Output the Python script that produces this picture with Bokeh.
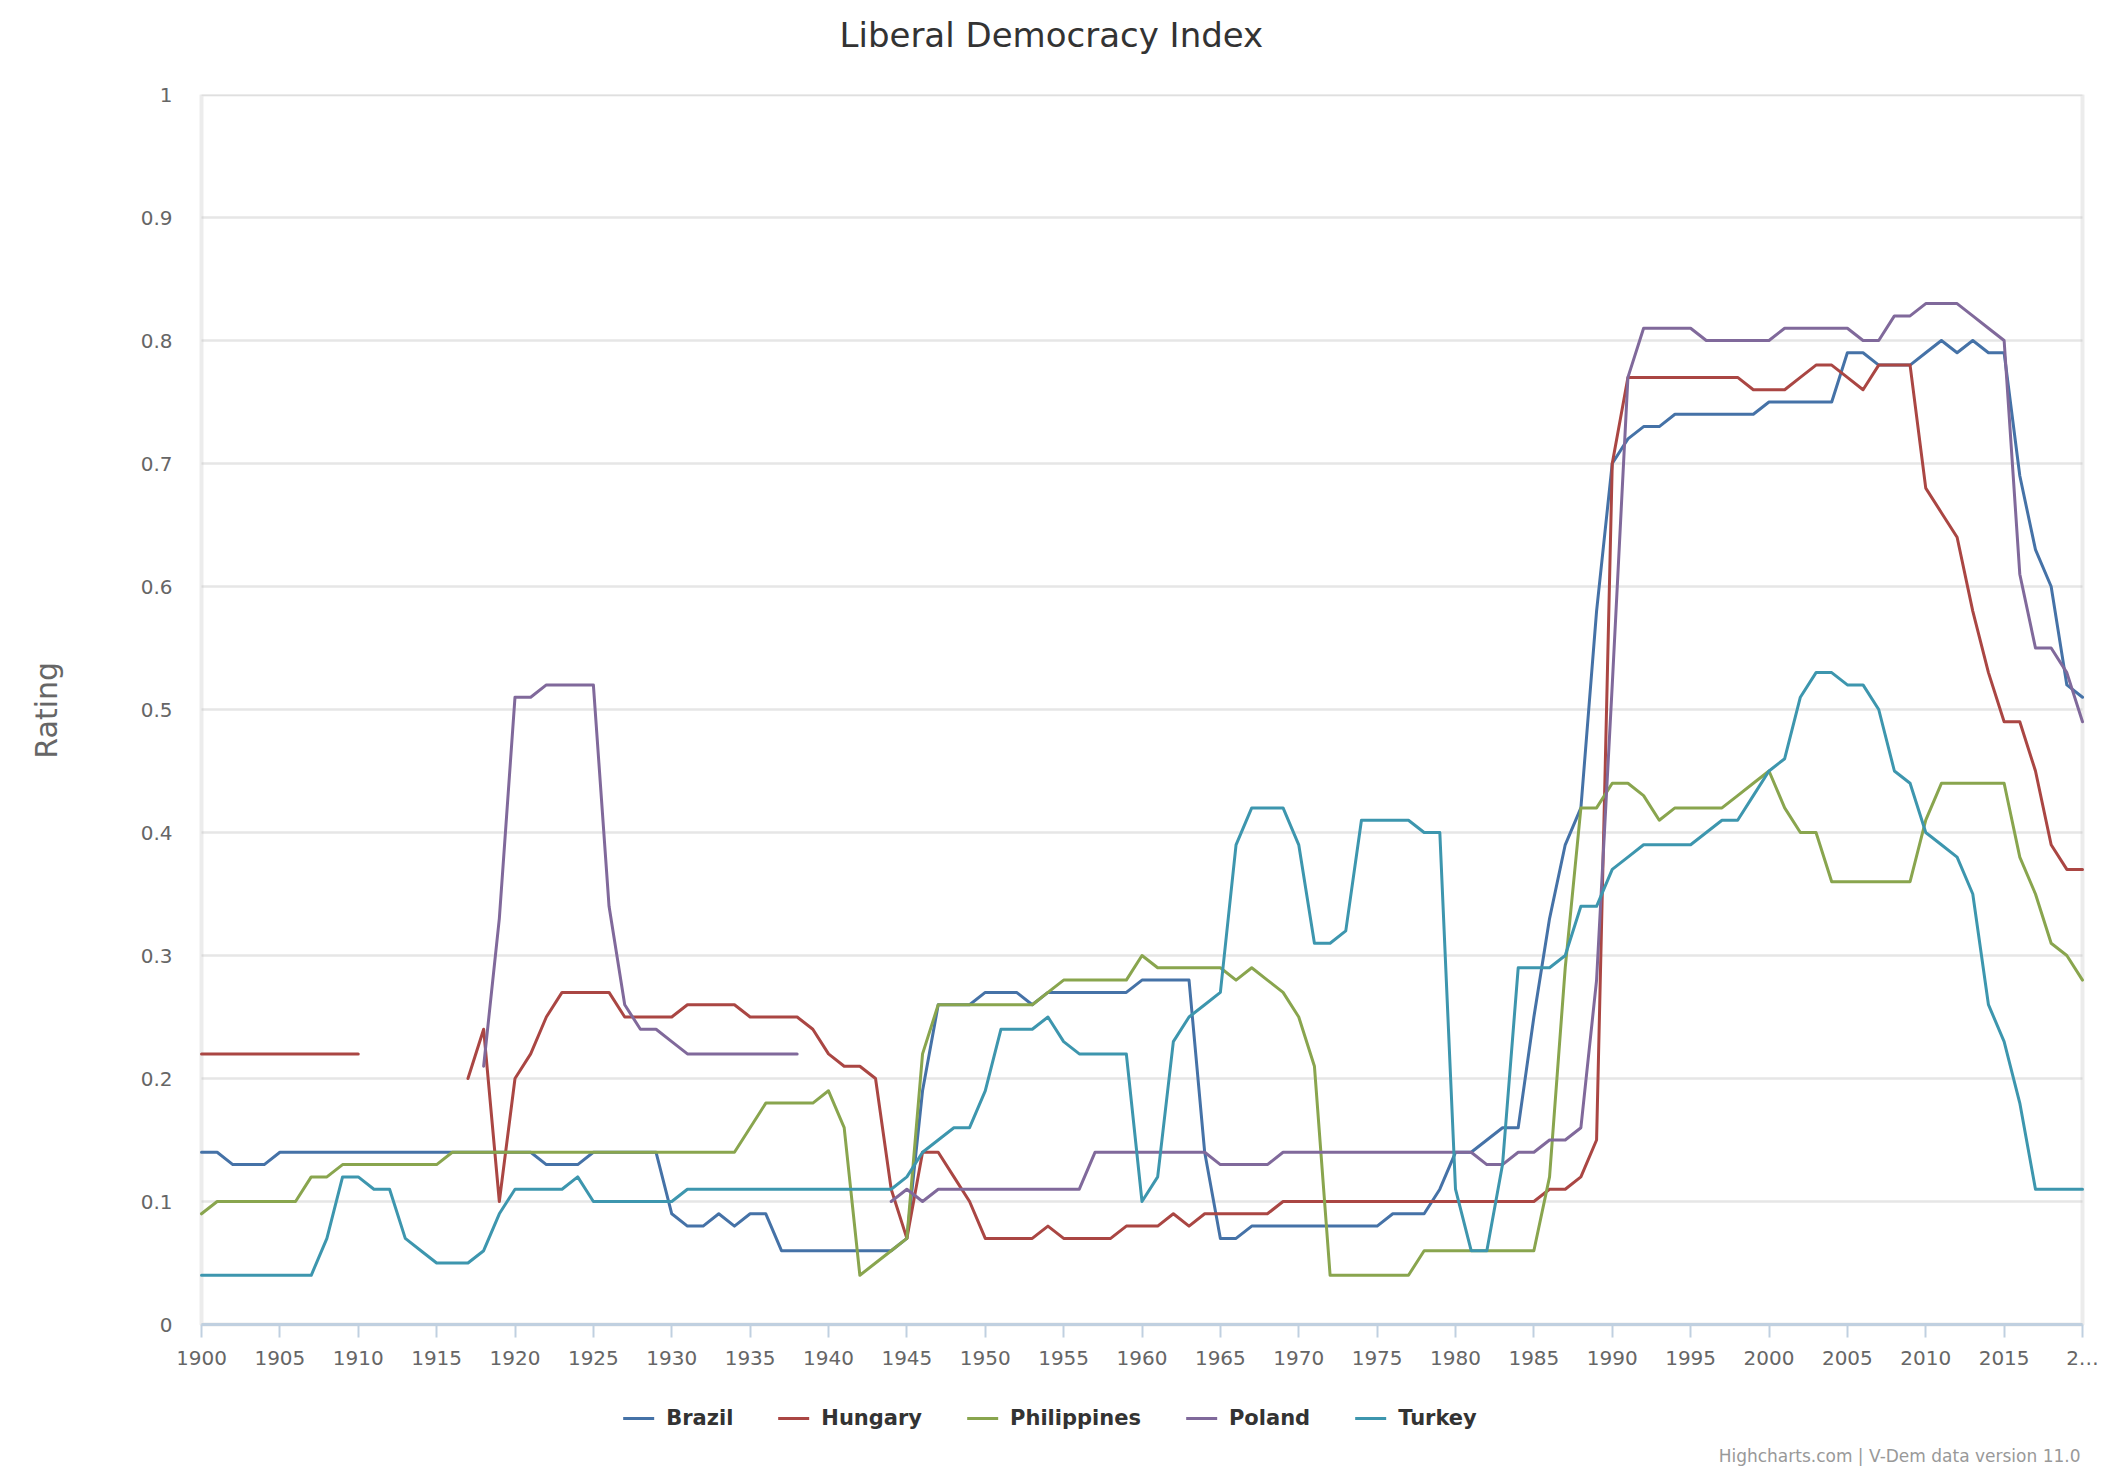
import math
from bokeh.plotting import figure
from bokeh.models import (ColumnDataSource, Legend, LegendItem, FixedTicker,
                          CustomJSTickFormatter, Title, Range1d, BoxAnnotation)
from bokeh.embed import file_html
from bokeh.resources import INLINE

N = None
years = list(range(1900, 2021))

# values by decade: 1900-1909, 1910-1919, ..., 2010-2019, 2020
brazil = [
    0.14, 0.14, 0.13, 0.13, 0.13, 0.14, 0.14, 0.14, 0.14, 0.14,
    0.14, 0.14, 0.14, 0.14, 0.14, 0.14, 0.14, 0.14, 0.14, 0.14,
    0.14, 0.14, 0.13, 0.13, 0.13, 0.14, 0.14, 0.14, 0.14, 0.14,
    0.09, 0.08, 0.08, 0.09, 0.08, 0.09, 0.09, 0.06, 0.06, 0.06,
    0.06, 0.06, 0.06, 0.06, 0.06, 0.07, 0.19, 0.26, 0.26, 0.26,
    0.27, 0.27, 0.27, 0.26, 0.27, 0.27, 0.27, 0.27, 0.27, 0.27,
    0.28, 0.28, 0.28, 0.28, 0.14, 0.07, 0.07, 0.08, 0.08, 0.08,
    0.08, 0.08, 0.08, 0.08, 0.08, 0.08, 0.09, 0.09, 0.09, 0.11,
    0.14, 0.14, 0.15, 0.16, 0.16, 0.25, 0.33, 0.39, 0.42, 0.58,
    0.70, 0.72, 0.73, 0.73, 0.74, 0.74, 0.74, 0.74, 0.74, 0.74,
    0.75, 0.75, 0.75, 0.75, 0.75, 0.79, 0.79, 0.78, 0.78, 0.78,
    0.79, 0.80, 0.79, 0.80, 0.79, 0.79, 0.69, 0.63, 0.60, 0.52,
    0.51,
]
hungary = [
    0.22, 0.22, 0.22, 0.22, 0.22, 0.22, 0.22, 0.22, 0.22, 0.22,
    0.22, N, N, N, N, N, N, 0.20, 0.24, 0.10,
    0.20, 0.22, 0.25, 0.27, 0.27, 0.27, 0.27, 0.25, 0.25, 0.25,
    0.25, 0.26, 0.26, 0.26, 0.26, 0.25, 0.25, 0.25, 0.25, 0.24,
    0.22, 0.21, 0.21, 0.20, 0.11, 0.07, 0.14, 0.14, 0.12, 0.10,
    0.07, 0.07, 0.07, 0.07, 0.08, 0.07, 0.07, 0.07, 0.07, 0.08,
    0.08, 0.08, 0.09, 0.08, 0.09, 0.09, 0.09, 0.09, 0.09, 0.10,
    0.10, 0.10, 0.10, 0.10, 0.10, 0.10, 0.10, 0.10, 0.10, 0.10,
    0.10, 0.10, 0.10, 0.10, 0.10, 0.10, 0.11, 0.11, 0.12, 0.15,
    0.70, 0.77, 0.77, 0.77, 0.77, 0.77, 0.77, 0.77, 0.77, 0.76,
    0.76, 0.76, 0.77, 0.78, 0.78, 0.77, 0.76, 0.78, 0.78, 0.78,
    0.68, 0.66, 0.64, 0.58, 0.53, 0.49, 0.49, 0.45, 0.39, 0.37,
    0.37,
]
philippines = [
    0.09, 0.10, 0.10, 0.10, 0.10, 0.10, 0.10, 0.12, 0.12, 0.13,
    0.13, 0.13, 0.13, 0.13, 0.13, 0.13, 0.14, 0.14, 0.14, 0.14,
    0.14, 0.14, 0.14, 0.14, 0.14, 0.14, 0.14, 0.14, 0.14, 0.14,
    0.14, 0.14, 0.14, 0.14, 0.14, 0.16, 0.18, 0.18, 0.18, 0.18,
    0.19, 0.16, 0.04, 0.05, 0.06, 0.07, 0.22, 0.26, 0.26, 0.26,
    0.26, 0.26, 0.26, 0.26, 0.27, 0.28, 0.28, 0.28, 0.28, 0.28,
    0.30, 0.29, 0.29, 0.29, 0.29, 0.29, 0.28, 0.29, 0.28, 0.27,
    0.25, 0.21, 0.04, 0.04, 0.04, 0.04, 0.04, 0.04, 0.06, 0.06,
    0.06, 0.06, 0.06, 0.06, 0.06, 0.06, 0.12, 0.29, 0.42, 0.42,
    0.44, 0.44, 0.43, 0.41, 0.42, 0.42, 0.42, 0.42, 0.43, 0.44,
    0.45, 0.42, 0.40, 0.40, 0.36, 0.36, 0.36, 0.36, 0.36, 0.36,
    0.41, 0.44, 0.44, 0.44, 0.44, 0.44, 0.38, 0.35, 0.31, 0.30,
    0.28,
]
poland = [
    N, N, N, N, N, N, N, N, N, N,
    N, N, N, N, N, N, N, N, 0.21, 0.33,
    0.51, 0.51, 0.52, 0.52, 0.52, 0.52, 0.34, 0.26, 0.24, 0.24,
    0.23, 0.22, 0.22, 0.22, 0.22, 0.22, 0.22, 0.22, 0.22, N,
    N, N, N, N, 0.10, 0.11, 0.10, 0.11, 0.11, 0.11,
    0.11, 0.11, 0.11, 0.11, 0.11, 0.11, 0.11, 0.14, 0.14, 0.14,
    0.14, 0.14, 0.14, 0.14, 0.14, 0.13, 0.13, 0.13, 0.13, 0.14,
    0.14, 0.14, 0.14, 0.14, 0.14, 0.14, 0.14, 0.14, 0.14, 0.14,
    0.14, 0.14, 0.13, 0.13, 0.14, 0.14, 0.15, 0.15, 0.16, 0.28,
    0.52, 0.77, 0.81, 0.81, 0.81, 0.81, 0.80, 0.80, 0.80, 0.80,
    0.80, 0.81, 0.81, 0.81, 0.81, 0.81, 0.80, 0.80, 0.82, 0.82,
    0.83, 0.83, 0.83, 0.82, 0.81, 0.80, 0.61, 0.55, 0.55, 0.53,
    0.49,
]
turkey = [
    0.04, 0.04, 0.04, 0.04, 0.04, 0.04, 0.04, 0.04, 0.07, 0.12,
    0.12, 0.11, 0.11, 0.07, 0.06, 0.05, 0.05, 0.05, 0.06, 0.09,
    0.11, 0.11, 0.11, 0.11, 0.12, 0.10, 0.10, 0.10, 0.10, 0.10,
    0.10, 0.11, 0.11, 0.11, 0.11, 0.11, 0.11, 0.11, 0.11, 0.11,
    0.11, 0.11, 0.11, 0.11, 0.11, 0.12, 0.14, 0.15, 0.16, 0.16,
    0.19, 0.24, 0.24, 0.24, 0.25, 0.23, 0.22, 0.22, 0.22, 0.22,
    0.10, 0.12, 0.23, 0.25, 0.26, 0.27, 0.39, 0.42, 0.42, 0.42,
    0.39, 0.31, 0.31, 0.32, 0.41, 0.41, 0.41, 0.41, 0.40, 0.40,
    0.11, 0.06, 0.06, 0.13, 0.29, 0.29, 0.29, 0.30, 0.34, 0.34,
    0.37, 0.38, 0.39, 0.39, 0.39, 0.39, 0.40, 0.41, 0.41, 0.43,
    0.45, 0.46, 0.51, 0.53, 0.53, 0.52, 0.52, 0.50, 0.45, 0.44,
    0.40, 0.39, 0.38, 0.35, 0.26, 0.23, 0.18, 0.11, 0.11, 0.11,
    0.11,
]

series_names = ["Brazil", "Hungary", "Philippines", "Poland", "Turkey"]
series_values = [brazil, hungary, philippines, poland, turkey]
series_colors = ["#4572A7", "#AA4643", "#89A54E", "#80699B", "#3D96AE"]

y_ticks = [round(i * 0.1, 1) for i in range(11)]
x_ticks = list(range(1900, 2021, 5))

FONT = "DejaVu Sans"

# layout: the plotting area (1900..2020 x 0..1) is 1881 x 1230 px; the frame
# is extended a little left/right (room for end tick labels) and downwards
# (room for the legend) so everything can sit inside it.
PLOT_W, PLOT_H = 1881, 1230
EXT_L, EXT_R = 23, 20
FRAME_H = 1346
px_per_year = PLOT_W / (years[-1] - years[0])
x_start = years[0] - EXT_L / px_per_year
x_end = years[-1] + EXT_R / px_per_year
y_start = 1 - FRAME_H / PLOT_H

p = figure(width=2102, height=1471, output_backend="svg", toolbar_location=None,
           x_range=Range1d(x_start, x_end), y_range=Range1d(y_start, 1),
           min_border_left=201 - EXT_L, min_border_right=0,
           min_border_top=94, min_border_bottom=0)
p.frame_width = PLOT_W + EXT_L + EXT_R
p.frame_height = FRAME_H
p.background_fill_color = "white"
p.border_fill_color = "white"
p.outline_line_color = None

# horizontal grid lines limited to the plotting area
p.ygrid.visible = False
p.xgrid.visible = False
p.segment(x0=[years[0]] * len(y_ticks), y0=y_ticks,
          x1=[years[-1]] * len(y_ticks), y1=y_ticks,
          line_color="#E6E6E6", line_width=2.5, level="underlay")

# plot area border
p.add_layout(BoxAnnotation(left=years[0], right=years[-1], bottom=0, top=1,
                           fill_alpha=0, line_color="#C0C0C0",
                           line_width=4, level="underlay"))

# title (second, empty line lifts the text towards the top of the page)
p.title.text = "Liberal Democracy Index\n"
p.title.align = "left"
p.title.offset = 661
p.title.vertical_align = "bottom"
p.title.text_font = FONT
p.title.text_font_size = "34px"
p.title.text_font_style = "normal"
p.title.text_color = "#333333"
p.title.standoff = 0

legend_items = []
for name, vals, col in zip(series_names, series_values, series_colors):
    ys = [math.nan if v is None else v for v in vals]
    src = ColumnDataSource(dict(x=years, y=ys))
    r = p.line("x", "y", source=src, line_color=col, line_width=3,
               line_join="round", line_cap="round")
    legend_items.append(LegendItem(label=name, renderers=[r]))

# axes
xa = p.xaxis[0]
xa.fixed_location = 0
xa.bounds = (years[0], years[-1])
xa.ticker = FixedTicker(ticks=x_ticks)
xa.formatter = CustomJSTickFormatter(code="return tick >= 2020 ? '2\\u2026' : tick.toFixed(0);")
xa.axis_line_color = "#C0D0E0"
xa.axis_line_width = 3
xa.major_tick_line_color = "#C0D0E0"
xa.major_tick_line_width = 2
xa.major_tick_out = 13
xa.major_tick_in = 0
xa.minor_tick_line_color = None
xa.major_label_standoff = 8
xa.major_label_text_font = FONT
xa.major_label_text_font_size = "20px"
xa.major_label_text_color = "#666666"

ya = p.yaxis[0]
ya.bounds = (0, 1)
ya.ticker = FixedTicker(ticks=y_ticks)
ya.formatter = CustomJSTickFormatter(code="return (Math.round(tick * 10) / 10).toString();")
ya.axis_line_color = None
ya.major_tick_line_color = None
ya.minor_tick_line_color = None
ya.major_label_standoff = 0
ya.major_label_text_font = FONT
ya.major_label_text_font_size = "20px"
ya.major_label_text_color = "#666666"
# leading no-break spaces move the centred label up to the middle of 0..1
ya.axis_label = "\u00a0" * 12 + "Rating"
ya.axis_label_text_font = FONT
ya.axis_label_text_font_size = "30px"
ya.axis_label_text_font_style = "normal"
ya.axis_label_text_color = "#666666"
ya.axis_label_standoff = 74

# blank title on the right shifts the centred legend to the left
legend = Legend(items=legend_items, orientation="horizontal", location="bottom_center",
                nrows=1, ncols=5,
                title=" ", title_location="right", title_standoff=179,
                title_text_font_size="1px",
                spacing=45, glyph_width=31, glyph_height=20, label_standoff=12,
                padding=0, margin=10, border_line_color=None, background_fill_alpha=0,
                label_text_font=FONT, label_text_font_style="bold",
                label_text_font_size="21px", label_text_color="#333333")
p.add_layout(legend, "center")

credits = Title(text="Highcharts.com | V-Dem data version 11.0", align="right",
                vertical_align="top", offset=22,
                text_font=FONT, text_font_size="17px", text_font_style="normal",
                text_color="#999999", standoff=10)
p.add_layout(credits, "below")

with open("out.html", "w", encoding="utf-8") as f:
    f.write(file_html(p, INLINE))
